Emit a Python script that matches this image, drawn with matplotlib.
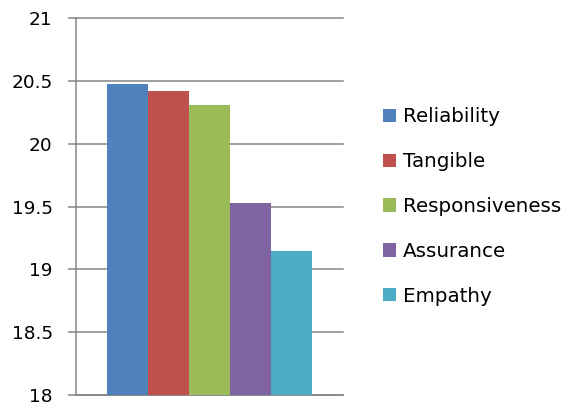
import matplotlib
matplotlib.use("Agg")
import matplotlib.pyplot as plt
import numpy as np

## data
dimensions = ['Reliability', 'Tangible', 'Responsiveness', 'Assurance', 'Empathy']
scores = [20.48, 20.42, 20.31, 19.53, 19.15]
bar_colors = ['#4F81BD', '#C0504D', '#9BBB59', '#8064A2', '#4BACC6']
y_ticks = [18, 18.5, 19, 19.5, 20, 20.5, 21]

grid_grey = '#868686'

fig = plt.figure(figsize=(5.63, 4.05), dpi=100)
ax = fig.add_axes([0.135, 0.0247, 0.474, 0.930])

# Excel style clustered bars, gap width 150%
n = len(scores)
w = 1.0 / (n + 1.5)
x = (np.arange(n) - (n - 1) / 2.0) * w
bars = ax.bar(x, [s - y_ticks[0] for s in scores], width=w, bottom=y_ticks[0],
              color=bar_colors, zorder=3, linewidth=0)

ax.set_xlim(-0.5, 0.5)
ax.set_ylim(y_ticks[0], y_ticks[-1])
ax.set_yticks(y_ticks)
ax.set_yticklabels(['%g' % t for t in y_ticks], fontsize=13.3)
ax.set_xticks([])

ax.yaxis.grid(True, color=grid_grey, linewidth=1.1, zorder=0)
for gl in ax.get_ygridlines():
    gl.set_clip_on(False)
ax.tick_params(axis='y', length=5.8, width=1.1, color=grid_grey, pad=11)

ax.spines['top'].set_visible(False)
ax.spines['right'].set_visible(False)
ax.spines['left'].set_color(grid_grey)
ax.spines['left'].set_linewidth(1.1)
ax.spines['bottom'].set_color(grid_grey)
ax.spines['bottom'].set_linewidth(1.1)

ax.legend(bars, dimensions, loc='center left', bbox_to_anchor=(0.680, 0.49),
          bbox_transform=fig.transFigure, frameon=False, fontsize=14.3,
          handlelength=0.66, handleheight=0.66, handletextpad=0.33,
          labelspacing=1.3, borderpad=0, borderaxespad=0)

fig.savefig('out.png', dpi=100)
